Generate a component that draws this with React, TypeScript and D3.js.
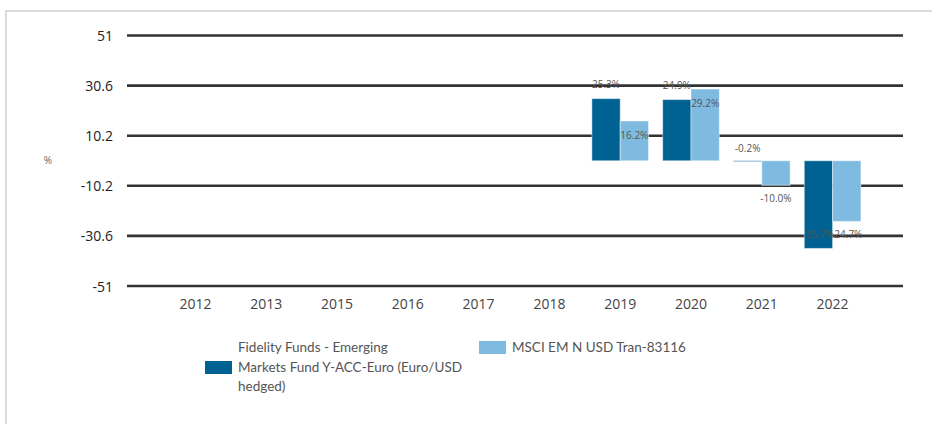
import React, { useEffect } from "react";
import * as d3 from "d3";

const categories = ["2012", "2013", "2015", "2016", "2017", "2018", "2019", "2020", "2021", "2022"];
const fundValues: (number | null)[] = [null, null, null, null, null, null, 25.3, 24.9, -0.2, -35.7];
const indexValues: (number | null)[] = [null, null, null, null, null, null, 16.2, 29.2, -10.0, -24.7];
const yTicks = [51, 30.6, 10.2, -10.2, -30.6, -51];
const fundLegendLines = ["Fidelity Funds - Emerging", "Markets Fund Y-ACC-Euro (Euro/USD", "hedged)"];
const indexLegendLines = ["MSCI EM N USD Tran-83116"];

const W = 932;
const H = 424;
const DARK = "#006193";
const LIGHT = "#7fbbe0";

export default function App() {
  useEffect(() => {
    document.body.style.margin = "0";
  }, []);

  const y = d3.scaleLinear().domain([-51, 51]).range([286, 35.5]);
  const x = d3.scaleBand<string>().domain(categories).range([160, 868]).paddingInner(0.2).paddingOuter(0.1);
  const sub = d3.scaleBand<string>().domain(["fund", "index"]).range([0, x.bandwidth()]);
  const fmt = (v: number) => v.toFixed(1) + "%";
  const y0 = y(0);

  const series = [
    { key: "fund", values: fundValues, color: DARK },
    { key: "index", values: indexValues, color: LIGHT },
  ];

  const labelY = (key: string, v: number) => {
    const end = y(v);
    if (key === "fund") {
      if (v >= 0) return end - 15;
      if (Math.abs(v) < 5) return y0 - 13;
      return end - 14;
    }
    if (v >= 0) return end + 14;
    return end + 13;
  };

  return (
    <div style={{ position: "absolute", left: 0, top: 0 }}>
      <svg width={W} height={H} style={{ display: "block", background: "#fff" }}>
        <rect x={6} y={11} width={W + 20} height={H + 20} fill="#fff" stroke="#dcdcdc" strokeWidth={2} />
        <text x={48} y={161} fontFamily="'Open Sans', sans-serif" fontSize={10} fill="#666" textAnchor="middle" dominantBaseline="middle">%</text>
        {yTicks.map((t) => (
          <g key={t}>
            <line x1={127} x2={903} y1={y(t)} y2={y(t)} stroke="#333" strokeWidth={2.6} />
            <text x={113} y={y(t)} fontFamily="'Open Sans', sans-serif" fontSize={14} fill="#222" textAnchor="end" dominantBaseline="central">{String(t)}</text>
          </g>
        ))}
        {categories.map((c) => (
          <text key={c} x={(x(c) as number) + x.bandwidth() / 2} y={303} fontFamily="'Open Sans', sans-serif" fontSize={14} fill="#444" textAnchor="middle" dominantBaseline="central">{c}</text>
        ))}
        {series.map((s) =>
          s.values.map((v, i) => {
            if (v === null) return null;
            const bx = (x(categories[i]) as number) + (sub(s.key) as number);
            const top = Math.min(y(v), y0);
            const h = Math.max(Math.abs(y(v) - y0), 0.8);
            return (
              <rect key={s.key + i} x={bx} y={top} width={sub.bandwidth()} height={h} fill={s.color} stroke="rgba(255,255,255,0.45)" strokeWidth={1} />
            );
          })
        )}
        {series.map((s) =>
          s.values.map((v, i) => {
            if (v === null) return null;
            const cx = (x(categories[i]) as number) + (sub(s.key) as number) + sub.bandwidth() / 2;
            return (
              <text key={"l" + s.key + i} x={cx} y={labelY(s.key, v)} fontFamily="'Open Sans', sans-serif" fontSize={10} fill="#555" textAnchor="middle" dominantBaseline="central">{fmt(v)}</text>
            );
          })
        )}
        <g fontFamily="Lato, sans-serif" fontSize={13.5} fill="#555">
          <rect x={205} y={361} width={27} height={13} fill={DARK} />
          {fundLegendLines.map((l, i) => (
            <text key={l} x={238} y={347 + i * 19.5} dominantBaseline="central">{l}</text>
          ))}
          <rect x={479} y={341} width={27} height={13} fill={LIGHT} />
          {indexLegendLines.map((l, i) => (
            <text key={l} x={512} y={347 + i * 19.5} dominantBaseline="central">{l}</text>
          ))}
        </g>
      </svg>
    </div>
  );
}
